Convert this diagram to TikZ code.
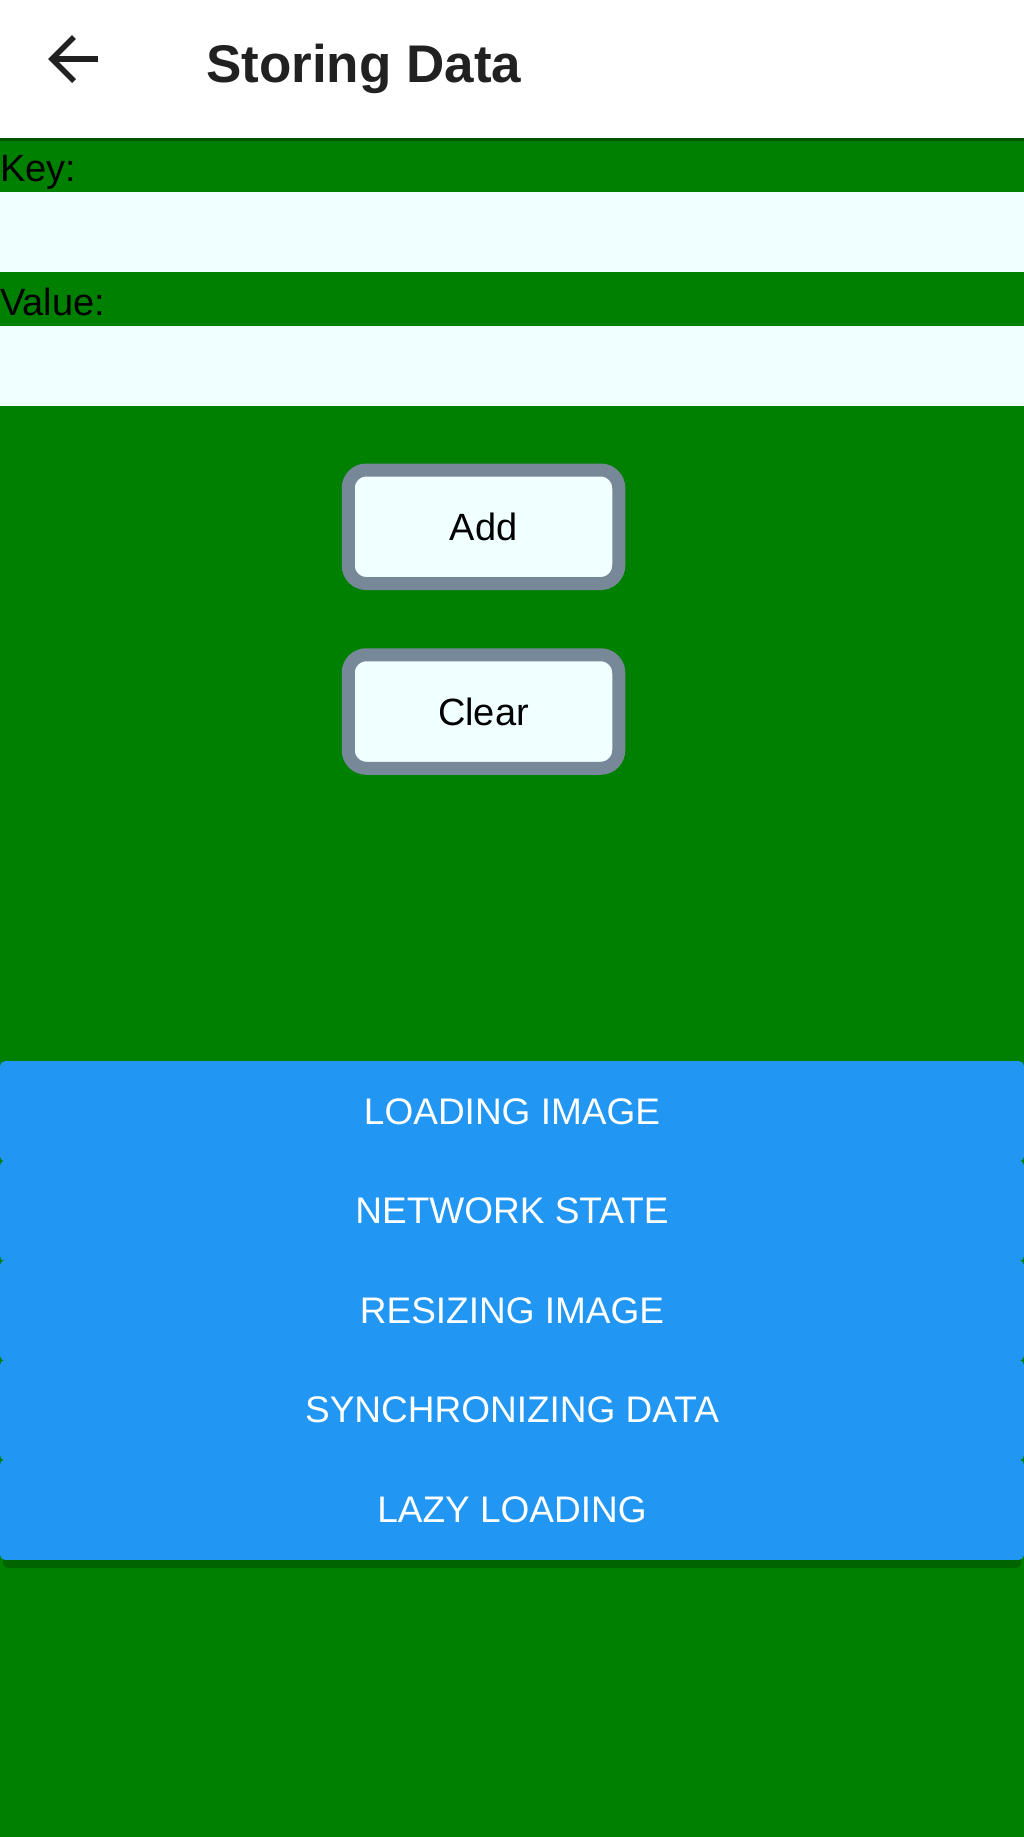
\documentclass[tikz,border=0pt]{standalone}
\usepackage{fontspec}
\setmainfont{Liberation Sans}
\usepackage{tikz}
\usetikzlibrary{arrows}
\usepackage{xcolor}
\definecolor{appgreen}{RGB}{0,128,0}
\definecolor{shadegreen}{RGB}{0,84,0}
\definecolor{fieldazure}{RGB}{240,255,255}
\definecolor{btngrey}{RGB}{119,136,153}
\definecolor{listblue}{RGB}{33,150,243}
\definecolor{inkblack}{RGB}{33,33,33}

\begin{document}
\begin{tikzpicture}[x=1pt,y=-1pt,>=stealth']
\tikzset{
    field/.style={%
        fill=fieldazure, draw=none,
        rectangle,
        inner sep=0pt, outer sep=0pt,
        anchor=north west,
        minimum height=80pt,
        minimum width=1024pt
        },
    lbl/.style={%
        anchor=base west, inner sep=0pt,
        text=black,
        font=\fontsize{38}{44}\selectfont
        },
    btn/.style={%
        draw=btngrey, line width=13pt,
        fill=fieldazure,
        rectangle,
        rounded corners=18pt,
        minimum height=113.5pt,
        minimum width=270.5pt,
        text=black,
        font=\fontsize{38}{44}\selectfont
        },
    listbtn/.style={%
        fill=listblue, draw=none,
        rectangle,
        rounded corners=5pt,
        inner sep=0pt, outer sep=0pt,
        minimum height=100.4pt,
        minimum width=1024pt,
        text=white,
        font=\fontsize{37}{44}\selectfont
        },
}
\useasboundingbox (0,0) rectangle (1024,1837);
%%%BACKGROUND
\fill[white] (0,0) rectangle (1024,138);
\fill[appgreen] (0,138) rectangle (1024,1837);
\fill[shadegreen] (0,138) rectangle (1024,141);
%%%APP BAR
\coordinate (arrowtip) at (52,59);
\coordinate (arrowtail) at (98,59);
\coordinate (arrowup) at (74,37);
\coordinate (arrowlow) at (74,81);
\draw[inkblack, line width=5.5pt] (arrowup) -- (arrowtip) -- (arrowlow);
\draw[inkblack, line width=5.5pt] (arrowtip) -- (arrowtail);
\node[anchor=base west, inner sep=0pt, text=inkblack, font=\fontsize{53}{60}\selectfont\bfseries] (title) at (206,82) {Storing Data};
%%%FIELDS
\node[lbl] (keylabel) at (0,181) {Key:};
\node[field] (keyfield) at (0,192) {};
\node[lbl] (valuelabel) at (0,315) {Value:};
\node[field] (valuefield) at (0,326) {};
%%%BUTTONS
\node[btn] (addbtn) at (483.5,526.75) {Add};
\node[btn] (clearbtn) at (483.5,711.5) {Clear};
%%%LIST
\fill[shadegreen, opacity=0.6, rounded corners=5pt] (3,1540) rectangle (1021,1568);
\node[listbtn] (loadimg) at (512,1111.3) {LOADING IMAGE};
\node[listbtn] (netstate) at (512,1210.9) {NETWORK STATE};
\node[listbtn] (resizeimg) at (512,1310.5) {RESIZING IMAGE};
\node[listbtn] (syncdata) at (512,1410.1) {SYNCHRONIZING DATA};
\node[listbtn] (lazyload) at (512,1509.7) {LAZY LOADING};
\end{tikzpicture}
\end{document}
